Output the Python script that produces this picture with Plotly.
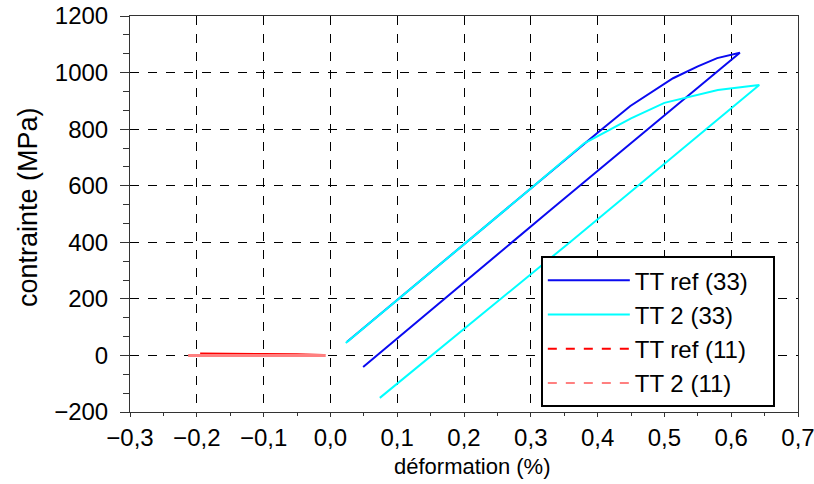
import plotly.graph_objects as go

# TT ref (33): loading then unloading
ref33_x = [0.025, 0.1, 0.2, 0.3, 0.4, 0.449, 0.513, 0.55, 0.579, 0.6, 0.613, 0.33, 0.049]
ref33_y = [48, 195, 393, 590, 787, 882, 980, 1022, 1051, 1062, 1070, 515, -41]

# TT 2 (33)
tt2_33_x = [0.023, 0.1, 0.2, 0.3, 0.38, 0.42, 0.45, 0.5, 0.535, 0.58, 0.62, 0.642, 0.36, 0.074]
tt2_33_y = [44, 195, 393, 590, 750, 800, 838, 893, 913, 938, 950, 956, 403, -150]

# TT ref (11)
ref11_x = [-0.195, -0.15, -0.1, -0.05, -0.01]
ref11_y = [5, 5, 3, 2, 0]

# TT 2 (11)
tt2_11_x = [-0.213, -0.15, -0.1, -0.05, -0.007]
tt2_11_y = [0, 1, 0, 0, 0]

names = ["TT ref (33)", "TT 2 (33)", "TT ref (11)", "TT 2 (11)"]
colors = ["#0a0af0", "#00ffff", "#ff0000", "#ff8080"]
dashes = ["solid", "solid", "dash", "dash"]
widths = [2, 2, 3, 3]

xticks = [-0.3, -0.2, -0.1, 0.0, 0.1, 0.2, 0.3, 0.4, 0.5, 0.6, 0.7]
yticks = [-200, 0, 200, 400, 600, 800, 1000, 1200]

fig = go.Figure()
series = [(ref33_x, ref33_y), (tt2_33_x, tt2_33_y), (ref11_x, ref11_y), (tt2_11_x, tt2_11_y)]
for (xs, ys), c, w in zip(series, colors, widths):
    fig.add_trace(go.Scatter(x=xs, y=ys, mode="lines", line=dict(color=c, width=w),
                             showlegend=False, hoverinfo="skip"))
# legend entries
for n, c, d in zip(names, colors, dashes):
    fig.add_trace(go.Scatter(x=[None], y=[None], mode="lines", name=n + "\u00a0\u00a0\u00a0",
                             line=dict(color=c, width=2, dash=d)))

font = "Liberation Sans, Arial, sans-serif"
fig.update_layout(
    width=814, height=484,
    margin=dict(l=130, r=16, t=16, b=72),
    paper_bgcolor="white", plot_bgcolor="white",
    separators=",.",
    font=dict(family=font, size=24, color="black"),
    legend=dict(x=0.615, y=0.012, xanchor="left", yanchor="bottom",
                bgcolor="white", bordercolor="black", borderwidth=2,
                font=dict(size=24), itemwidth=82, tracegroupgap=0),
    annotations=[
        dict(text="déformation (%)", xref="paper", yref="paper", x=0.5, y=0,
             xanchor="center", yanchor="middle", xshift=8, yshift=-54,
             showarrow=False, font=dict(size=22)),
        dict(text="contrainte (MPa)", xref="paper", yref="paper", x=0, y=0.5,
             xanchor="center", yanchor="middle", xshift=-102, yshift=7, textangle=-90,
             showarrow=False, font=dict(size=27)),
    ],
)
fig.update_xaxes(
    range=[-0.3, 0.7], tickvals=xticks, tickformat=".1f", automargin=False,
    ticklabeloverflow="allow",
    showgrid=True, gridcolor="black", griddash="dash", gridwidth=1,
    showline=True, linecolor="#333", linewidth=1, mirror=True,
    ticks="outside", ticklen=4, tickcolor="#333",
    minor=dict(dtick=0.05, tick0=0, ticks="outside", ticklen=3, tickcolor="#333", showgrid=False),
    zeroline=False,
)
fig.update_yaxes(
    range=[-200, 1200], tickvals=yticks, automargin=False,
    ticklabeloverflow="allow",
    showgrid=True, gridcolor="black", griddash="dash", gridwidth=1,
    showline=True, linecolor="#333", linewidth=1, mirror=True,
    ticks="outside", ticklen=9, tickcolor="#333", ticklabelstandoff=7,
    minor=dict(dtick=200/3, tick0=-200, ticks="outside", ticklen=6, tickcolor="#333", showgrid=False),
    zeroline=False,
)
fig.write_html("out.html", config={"displayModeBar": False},
               post_script="document.body.style.margin='0';")
